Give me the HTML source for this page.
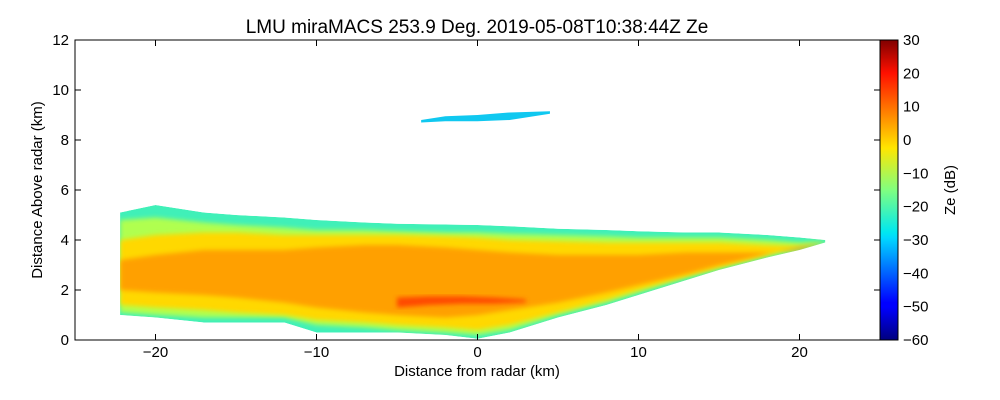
<!DOCTYPE html>
<html><head><meta charset="utf-8"><style>
body{margin:0;background:#fff}
svg{display:block;font-family:"Liberation Sans","DejaVu Sans",sans-serif}
</style></head><body>
<svg id="c" width="1000" height="400" viewBox="0 0 1000 400">
<defs>
<filter id="bl" x="-5%" y="-20%" width="110%" height="140%"><feGaussianBlur stdDeviation="2.5"/></filter>
<clipPath id="clipEcho"><polygon id="clipPoly" points=""/></clipPath>
<linearGradient id="jet" x1="0" y1="1" x2="0" y2="0">
<stop offset="0" stop-color="#00007f"/><stop offset="0.11" stop-color="#0000ff"/>
<stop offset="0.125" stop-color="#0000ff"/><stop offset="0.34" stop-color="#00d8ff"/>
<stop offset="0.36" stop-color="#00e8f0"/><stop offset="0.5" stop-color="#80ff80"/>
<stop offset="0.64" stop-color="#ffe600"/><stop offset="0.89" stop-color="#ff1000"/>
<stop offset="1" stop-color="#800000"/></linearGradient>
</defs>
<g id="echo" clip-path="url(#clipEcho)"></g>
<g id="echo2"></g>
<rect x="75" y="40" width="805" height="300" fill="none" stroke="#000"/>
<g id="axes"></g>
<rect x="880" y="40" width="18" height="300" fill="url(#jet)" stroke="#000"/>
<text x="477" y="33" text-anchor="middle" font-size="19">LMU miraMACS 253.9 Deg. 2019-05-08T10:38:44Z  Ze</text>
<text x="477" y="376" text-anchor="middle" font-size="15">Distance from radar (km)</text>
<text transform="translate(42,190) rotate(-90)" text-anchor="middle" font-size="15">Distance Above radar  (km)</text>
<text transform="translate(955,190) rotate(-90)" text-anchor="middle" font-size="15">Ze (dB)</text>
</svg>
<script>
const xTicks=[-20,-10,0,10,20];
const yTicks=[0,2,4,6,8,10,12];
const cbTicks=[-60,-50,-40,-30,-20,-10,0,10,20,30];
const xs=[-22.2,-20,-17,-15,-12,-10,-7,-5,-2,0,2,5,8,10,13,15,18,20,21.6];
const outerTop=[5.1,5.4,5.1,5.0,4.9,4.8,4.7,4.65,4.62,4.6,4.55,4.45,4.4,4.35,4.3,4.3,4.2,4.1,4.0];
const outerBot=[1.0,0.9,0.7,0.7,0.7,0.3,0.3,0.3,0.2,0.05,0.3,0.9,1.4,1.8,2.4,2.8,3.3,3.6,3.9];
const greenTop=[4.8,4.9,4.7,4.6,4.5,4.4,4.4,4.35,4.3,4.3,4.25,4.2,4.15,4.1,4.1,4.1,4.0,3.9,3.95];
const greenBot=[1.1,1.0,0.9,0.9,0.9,0.6,0.5,0.4,0.3,0.2,0.4,1.0,1.5,1.9,2.5,2.85,3.35,3.65,3.9];
const yellowTop=[4.0,4.2,4.3,4.3,4.2,4.2,4.2,4.2,4.15,4.1,4.0,3.95,3.9,3.9,3.9,3.9,3.8,3.75,3.9];
const yellowBot=[1.4,1.3,1.2,1.1,1.0,0.8,0.7,0.6,0.5,0.4,0.6,1.1,1.6,2.0,2.55,2.9,3.4,3.7,3.9];
const orangeTop=[3.2,3.4,3.6,3.6,3.6,3.7,3.8,3.8,3.7,3.6,3.5,3.4,3.4,3.4,3.5,3.5,3.5,3.6,3.85];
const orangeBot=[2.0,1.9,1.8,1.7,1.5,1.3,1.1,1.0,0.9,1.0,1.2,1.5,1.9,2.2,2.65,3.0,3.45,3.72,3.85];
const redXs=[-5,-3,-1,1,3];
const redTop=[1.7,1.75,1.75,1.7,1.62];
const redBot=[1.3,1.4,1.45,1.45,1.5];
const cirrusXs=[-3.5,-2,0,2,4.5];
const cirrusTop=[8.8,8.95,9.0,9.1,9.15];
const cirrusBot=[8.7,8.75,8.75,8.8,9.05];
const X=v=>75+(v+25)*805/50, Y=v=>340-v*25, C=v=>340-(v+60)*300/90;
const NS='http://www.w3.org/2000/svg';
const echo=document.getElementById('echo'), echo2=document.getElementById('echo2'), axes=document.getElementById('axes');
function pts(xa,top,bot){return xa.map((x,i)=>X(x)+','+Y(top[i])).concat(xa.map((x,i)=>X(x)+','+Y(bot[i])).reverse()).join(' ');}
document.getElementById('clipPoly').setAttribute('points',pts(xs,outerTop,outerBot));
function band(g,xa,top,bot,fill,name,blur){
  const p=document.createElementNS(NS,'polygon');
  p.setAttribute('points',pts(xa,top,bot));p.setAttribute('fill',fill);
  if(blur)p.setAttribute('filter','url(#bl)');
  
  
  g.appendChild(p);
}
band(echo,xs,outerTop,outerBot,'#40f0b8','echo-edge-band',false);
band(echo,xs,greenTop,greenBot,'#b0ff50','echo-green-band',true);
band(echo,xs,yellowTop,yellowBot,'#ffd800','echo-yellow-band',true);
band(echo,xs,orangeTop,orangeBot,'#ffa000','echo-orange-core',true);
band(echo,redXs,redTop,redBot,'#ff4a00','echo-red-streak',true);
band(echo2,cirrusXs,cirrusTop,cirrusBot,'#10c8f0','cirrus-layer',false);
function line(x1,y1,x2,y2,name){const l=document.createElementNS(NS,'line');
  l.setAttribute('x1',x1);l.setAttribute('y1',y1);l.setAttribute('x2',x2);l.setAttribute('y2',y2);l.setAttribute('stroke','#000');
  
  
  axes.appendChild(l);}
function text(x,y,s,anchor,name){const t=document.createElementNS(NS,'text');
  t.setAttribute('x',x);t.setAttribute('y',y);t.setAttribute('text-anchor',anchor);t.setAttribute('font-size','15');t.textContent=s;
  
  
  axes.appendChild(t);}
xTicks.forEach(v=>{line(X(v),340,X(v),334,'x-tick');line(X(v),40,X(v),46,'x-tick');text(X(v),357,String(v).replace('-','\u2212'),'middle','x-tick-label');});
yTicks.forEach(v=>{line(75,Y(v),81,Y(v),'y-tick');line(880,Y(v),874,Y(v),'y-tick');text(69,Y(v)+5,String(v),'end','y-tick-label');});
cbTicks.forEach(v=>{line(880,C(v),884,C(v),'colorbar-tick');line(898,C(v),894,C(v),'colorbar-tick');text(903,C(v)+5,String(v).replace('-','\u2212'),'start','colorbar-tick-label');});
</script>
</body></html>
